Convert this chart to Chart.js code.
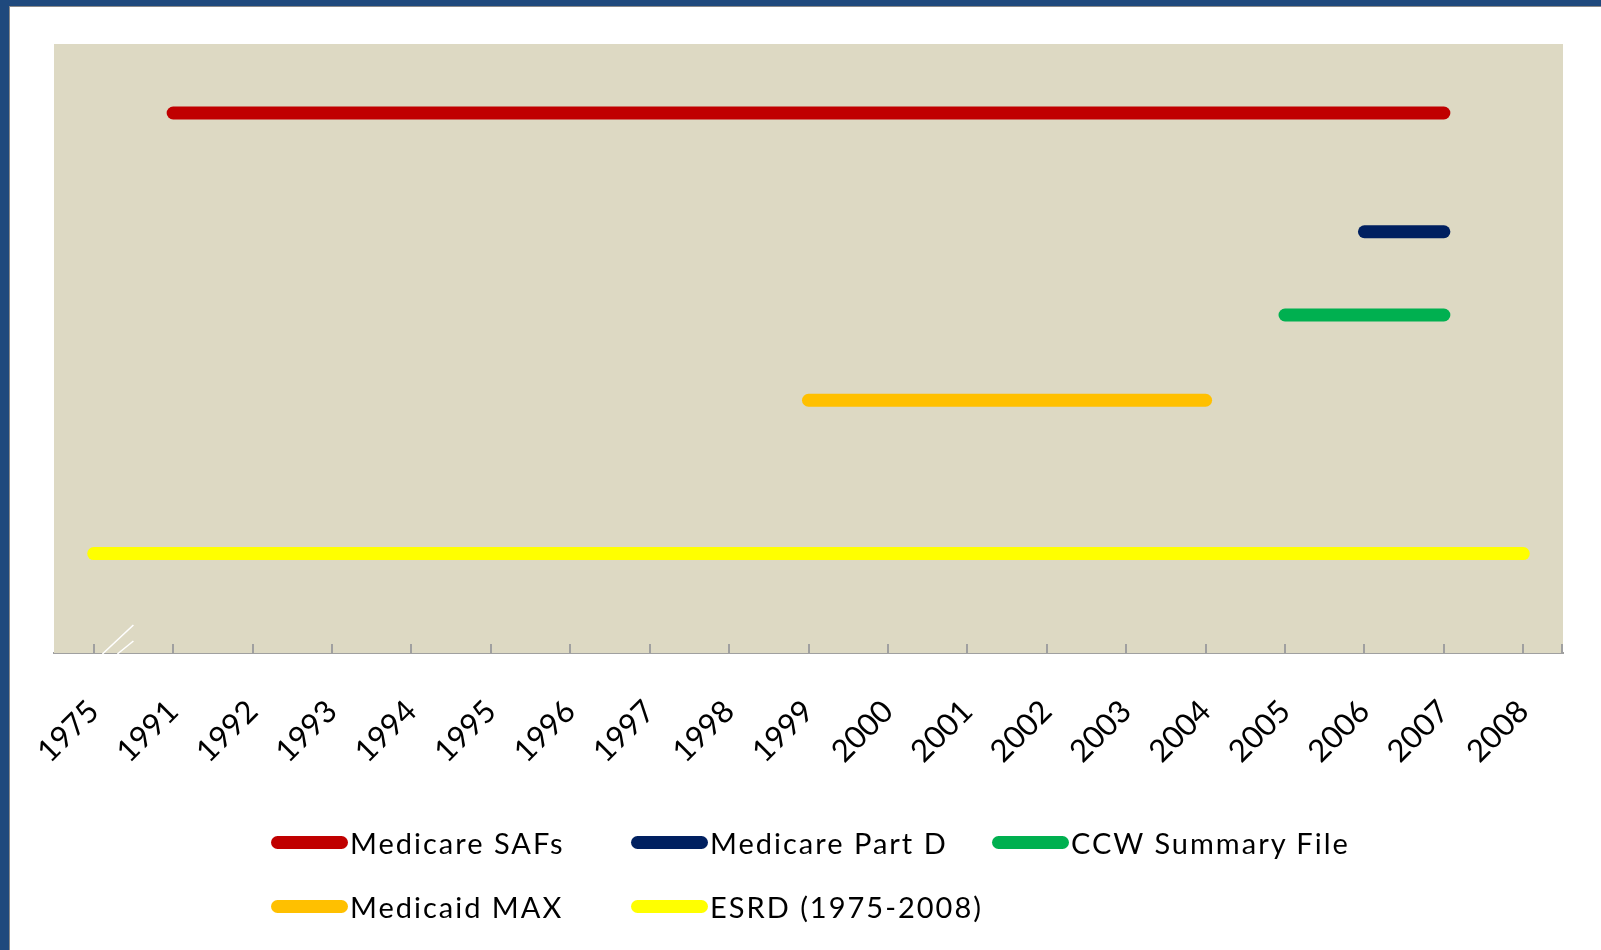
<!DOCTYPE html>
<html>
<head>
<meta charset="utf-8">
<script src="https://cdn.jsdelivr.net/npm/chart.js@4.4.0/dist/chart.umd.min.js"></script>
<style>
  html, body { margin:0; padding:0; width:1601px; height:950px; overflow:hidden; background:#1F497D; }
  #sheet { position:absolute; left:9px; top:6px; right:0; bottom:0; background:#fff;
           border-left:1px solid #8a8a8a; border-top:1px solid #8a8a8a; }
  #c { position:absolute; left:0; top:0; }
  .lg { position:absolute; height:36px; display:flex; align-items:center; font-family:Lato, "Open Sans", sans-serif;
        font-size:29px; letter-spacing:2px; color:#000; white-space:nowrap; }
  .lg .sw { width:77px; height:13px; border-radius:7px; margin-right:2px; }
</style>
</head>
<body>
<div id="sheet"></div>
<canvas id="c" width="1601" height="950"></canvas>
<div id="legend"></div>
<script>
const categories = ['1975','1991','1992','1993','1994','1995','1996','1997','1998','1999',
                    '2000','2001','2002','2003','2004','2005','2006','2007','2008'];
const medicareSAFs  = [null,5.32,5.32,5.32,5.32,5.32,5.32,5.32,5.32,5.32,5.32,5.32,5.32,5.32,5.32,5.32,5.32,5.32,null];
const medicarePartD = [null,null,null,null,null,null,null,null,null,null,null,null,null,null,null,null,4.15,4.15,null];
const ccwSummary    = [null,null,null,null,null,null,null,null,null,null,null,null,null,null,null,3.33,3.33,3.33,null];
const medicaidMAX   = [null,null,null,null,null,null,null,null,null,2.49,2.49,2.49,2.49,2.49,2.49,null,null,null,null];
const esrd          = [0.98,0.98,0.98,0.98,0.98,0.98,0.98,0.98,0.98,0.98,0.98,0.98,0.98,0.98,0.98,0.98,0.98,0.98,0.98];

const seriesNames  = ['Medicare SAFs','Medicare Part D','CCW Summary File','Medicaid MAX','ESRD (1975-2008)'];
const seriesData   = [medicareSAFs, medicarePartD, ccwSummary, medicaidMAX, esrd];
const seriesColors = ['#C00000','#002060','#00B050','#FFC000','#FFFF00'];

const decor = {
  id: 'decor',
  beforeDatasetsDraw(chart) {
    const {ctx, chartArea:a} = chart;
    ctx.save();
    ctx.fillStyle = '#DDD9C3';
    ctx.fillRect(a.left, a.top, a.right - a.left, a.bottom - a.top);
    ctx.restore();
  },
  afterDraw(chart) {
    const {ctx, chartArea:a} = chart;
    const x = chart.scales.x;
    ctx.save();
    ctx.strokeStyle = '#A0A0A0';
    ctx.lineWidth = 2;
    ctx.beginPath();
    for (let i = 0; i < categories.length; i++) {
      const px = Math.round(x.getPixelForTick(i));
      ctx.moveTo(px, a.bottom); ctx.lineTo(px, a.bottom - 9);
    }
    ctx.moveTo(a.right - 1, a.bottom); ctx.lineTo(a.right - 1, a.bottom - 9);
    ctx.stroke();
    // axis break marks
    const mid = (x.getPixelForTick(0) + x.getPixelForTick(1)) / 2;
    ctx.strokeStyle = '#FFFFFF';
    ctx.lineWidth = 1.6;
    ctx.beginPath();
    ctx.moveTo(mid - 31, a.bottom + 1); ctx.lineTo(mid, a.bottom - 28);
    ctx.moveTo(mid - 16, a.bottom + 1); ctx.lineTo(mid, a.bottom - 12);
    ctx.stroke();
    ctx.restore();
  }
};

new Chart(document.getElementById('c'), {
  type: 'line',
  data: {
    labels: categories,
    datasets: seriesData.map((d, i) => ({
      label: seriesNames[i],
      data: d,
      borderColor: seriesColors[i],
      backgroundColor: seriesColors[i],
      borderWidth: 13,
      borderCapStyle: 'round',
      borderJoinStyle: 'round',
      pointRadius: 0,
      pointHoverRadius: 0,
      fill: false,
      tension: 0
    }))
  },
  options: {
    responsive: false,
    animation: false,
    layout: { padding: { left: 54, top: 44, right: 38, bottom: 0 } },
    plugins: { legend: { display: false }, tooltip: { enabled: false } },
    scales: {
      x: {
        type: 'category',
        offset: true,
        afterFit(s) { s.height = 297; },
        grid: { display: false, drawTicks: false },
        border: { display: true, color: '#A0A0A0', width: 2 },
        ticks: {
          autoSkip: false,
          minRotation: 45, maxRotation: 45,
          padding: 40,
          color: '#000',
          font: { family: 'Lato, "Open Sans", sans-serif', size: 31 }
        }
      },
      y: { display: false, min: 0, max: 6 }
    }
  },
  plugins: [decor]
});

// legend
const legendPos = [[271, 842], [631, 842], [992, 842], [271, 906], [631, 906]];
const lg = document.getElementById('legend');
seriesNames.forEach((n, i) => {
  const d = document.createElement('div');
  d.className = 'lg';
  d.style.left = legendPos[i][0] + 'px';
  d.style.top = (legendPos[i][1] - 18) + 'px';
  d.innerHTML = '<div class="sw" style="background:' + seriesColors[i] + '"></div><span>' + n + '</span>';
  lg.appendChild(d);
});
</script>
</body>
</html>
